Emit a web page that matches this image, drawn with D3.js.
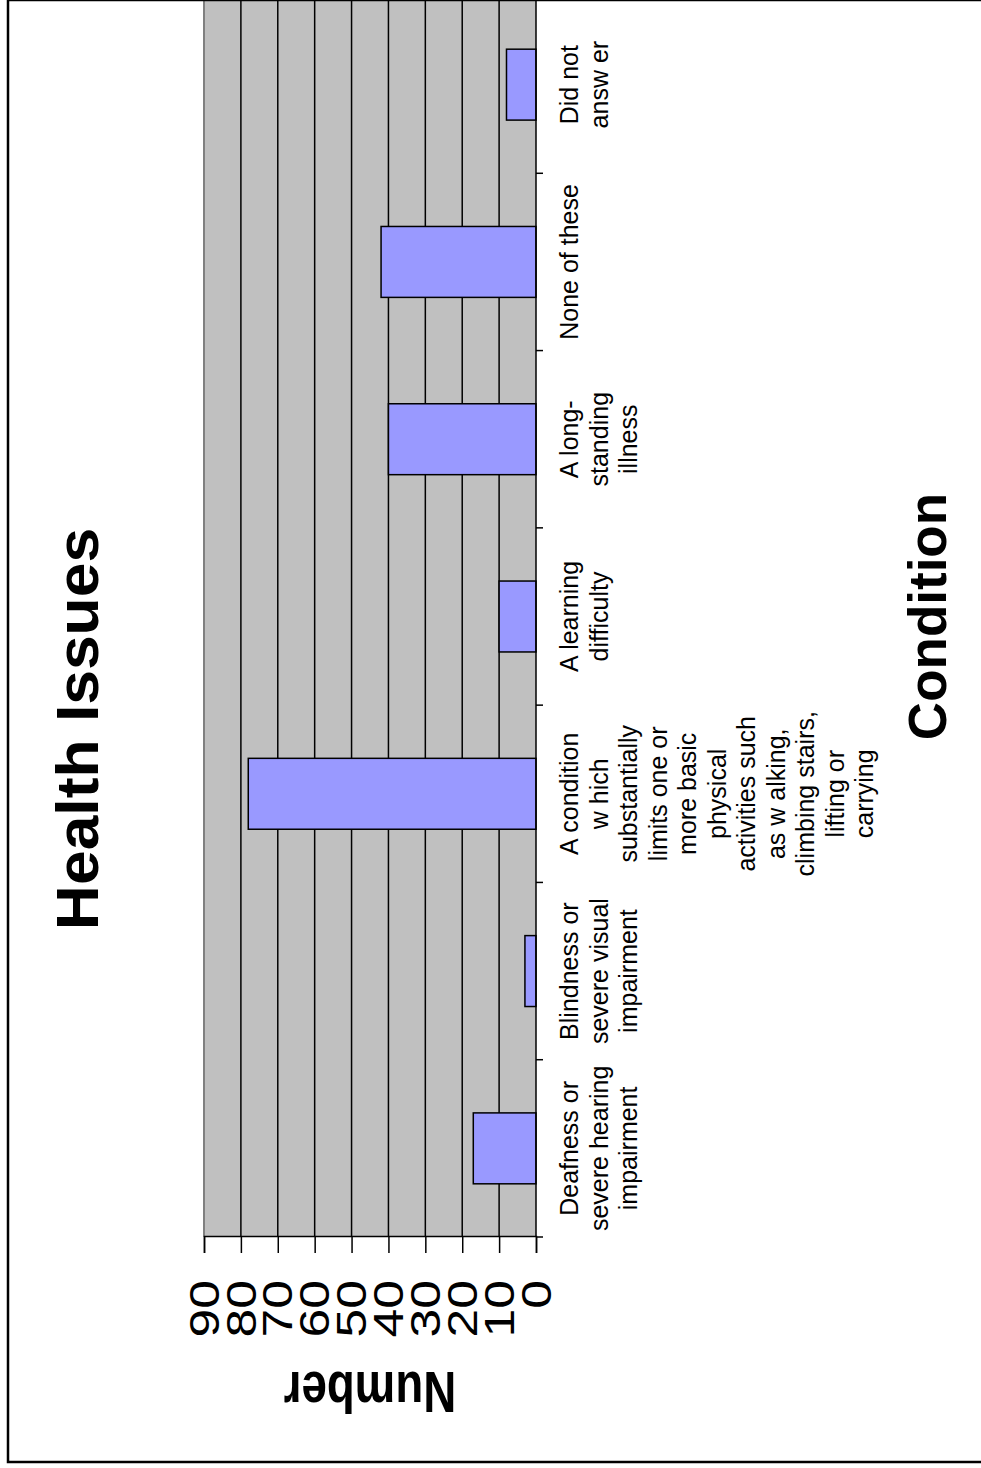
<!DOCTYPE html>
<html>
<head>
<meta charset="utf-8">
<script src="https://cdn.jsdelivr.net/npm/d3@7"></script>
<style>
  html, body { margin: 0; padding: 0; background: #fff; }
  svg { display: block; }
  text { font-family: "Liberation Sans", Arial, sans-serif; }
</style>
</head>
<body>
<svg id="chart" width="981" height="1468"></svg>
<script>
// ---- data ----
const categories = [
  "Deafness or severe hearing impairment",
  "Blindness or severe visual impairment",
  "A condition which substantially limits one or more basic physical activities such as walking, climbing stairs, lifting or carrying",
  "A learning difficulty",
  "A long-standing illness",
  "None of these",
  "Did not answer"
];
const categoryLabelLines = [
  ["Deafness or", "severe hearing", "impairment"],
  ["Blindness or", "severe visual", "impairment"],
  ["A condition", "w hich", "substantially", "limits one or", "more basic", "physical", "activities such", "as w alking,", "climbing stairs,", "lifting or", "carrying"],
  ["A learning", "difficulty"],
  ["A long-", "standing", "illness"],
  ["None of these"],
  ["Did not", "answ er"]
];
const values = [17, 3, 78, 10, 40, 42, 8];
const valueTicks = [0, 10, 20, 30, 40, 50, 60, 70, 80, 90];
const titleText = "Health Issues";
const xTitleText = "Condition";
const yTitleText = "Number";

// ---- layout (drawn in landscape frame, then rotated -90deg) ----
const W = 1468;
const svg = d3.select("#chart");
const g = svg.append("g").attr("transform", `translate(0,${W}) rotate(-90)`);

const plot = { left: 231, right: 1472, top: 204, bottom: 536 };

const y = d3.scaleLinear().domain([0, 90]).range([plot.bottom, plot.top]);
const xCat = d3.scaleBand().domain(categories).range([plot.left, plot.right]).padding(0);
const xBar = d3.scaleBand().domain(categories).range([plot.left, plot.right])
  .paddingInner(0.6).paddingOuter(0.3);

// chart area border
g.append("rect")
  .attr("x", 6).attr("y", 8)
  .attr("width", 1500).attr("height", 1000)
  .attr("fill", "#fff").attr("stroke", "#000").attr("stroke-width", 2.5);

// plot background
g.append("rect")
  .attr("x", plot.left).attr("y", plot.top)
  .attr("width", plot.right - plot.left).attr("height", plot.bottom - plot.top)
  .attr("fill", "#C0C0C0");

// gridlines
g.append("g").selectAll("line")
  .data(valueTicks.filter(v => v > 0 && v < 90))
  .join("line")
  .attr("x1", plot.left).attr("x2", plot.right)
  .attr("y1", d => y(d)).attr("y2", d => y(d))
  .attr("stroke", "#000").attr("stroke-width", 1.5);

// plot top border (gray)
g.append("line")
  .attr("x1", plot.left).attr("x2", plot.right)
  .attr("y1", plot.top).attr("y2", plot.top)
  .attr("stroke", "#808080").attr("stroke-width", 2);

// bars
g.append("g").selectAll("rect")
  .data(categories)
  .join("rect")
  .attr("x", d => xBar(d))
  .attr("width", xBar.bandwidth())
  .attr("y", (d, i) => y(values[i]))
  .attr("height", (d, i) => y(0) - y(values[i]))
  .attr("fill", "#9999FF")
  .attr("stroke", "#000").attr("stroke-width", 1.5);

// value axis (left in landscape frame)
const yAxis = d3.axisLeft(y).tickValues(valueTicks).tickSize(16).tickFormat(d3.format("d"));
const ya = g.append("g").attr("transform", `translate(${plot.left},0)`).call(yAxis);
ya.select(".domain").attr("stroke", "#000").attr("stroke-width", 1.5);
ya.selectAll(".tick line").attr("stroke", "#000").attr("stroke-width", 1.5);
ya.selectAll(".tick text")
  .attr("x", null)
  .attr("transform", "translate(-43,0) scale(1.2,1)")
  .attr("font-size", 43)
  .attr("fill", "#000")
  .attr("text-anchor", "end")
  .attr("dy", "0.33em");

// category axis (bottom in landscape frame)
g.append("line")
  .attr("x1", plot.left).attr("x2", plot.right)
  .attr("y1", plot.bottom).attr("y2", plot.bottom)
  .attr("stroke", "#000").attr("stroke-width", 1.5);
const boundaries = categories.map(c => xCat(c)).concat([xCat(categories[categories.length - 1]) + xCat.bandwidth()]);
g.append("g").selectAll("line")
  .data(boundaries)
  .join("line")
  .attr("x1", d => d).attr("x2", d => d)
  .attr("y1", plot.bottom).attr("y2", plot.bottom + 7)
  .attr("stroke", "#000").attr("stroke-width", 1.5);

// category labels
const catG = g.append("g");
categories.forEach((c, i) => {
  const t = catG.append("text")
    .attr("text-anchor", "middle")
    .attr("font-size", 25)
    .attr("fill", "#000");
  categoryLabelLines[i].forEach((line, j) => {
    t.append("tspan")
      .attr("x", xCat(c) + xCat.bandwidth() / 2)
      .attr("y", 578 + j * 29.5)
      .text(line);
  });
});

// chart title
g.append("text")
  .attr("transform", "translate(739,98) scale(1.04,1)")
  .attr("text-anchor", "middle")
  .attr("font-size", 60).attr("font-weight", "bold")
  .attr("fill", "#000")
  .text(titleText);

// category axis title
g.append("text")
  .attr("x", (plot.left + plot.right) / 2).attr("y", 946)
  .attr("text-anchor", "middle")
  .attr("font-size", 53).attr("font-weight", "bold")
  .attr("fill", "#000")
  .text(xTitleText);

// value axis title
g.append("text")
  .attr("transform", `translate(75,${(plot.top + plot.bottom) / 2}) rotate(-90) scale(0.8,1)`)
  .attr("text-anchor", "middle")
  .attr("dy", "0.36em")
  .attr("font-size", 57).attr("font-weight", "bold")
  .attr("fill", "#000")
  .text(yTitleText);

// far edge of the (clipped) chart frame
g.append("line")
  .attr("x1", W - 0.5).attr("x2", W - 0.5)
  .attr("y1", 8).attr("y2", 1000)
  .attr("stroke", "#000").attr("stroke-width", 1.5);
</script>
</body>
</html>
